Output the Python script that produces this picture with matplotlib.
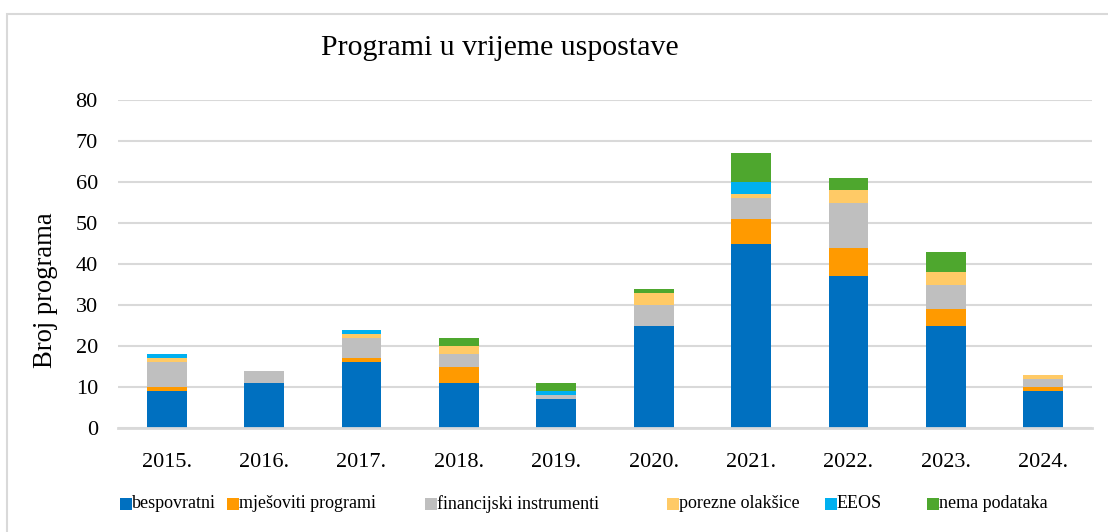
import matplotlib
matplotlib.use("Agg")
import matplotlib.pyplot as plt
from matplotlib.patches import Rectangle
import numpy as np

years = ["2015.", "2016.", "2017.", "2018.", "2019.", "2020.", "2021.", "2022.", "2023.", "2024."]
series_names = ["bespovratni", "mješoviti programi", "financijski instrumenti",
                "porezne olakšice", "EEOS", "nema podataka"]
bespovratni = [9, 11, 16, 11, 7, 25, 45, 37, 25, 9]
mjesoviti = [1, 0, 1, 4, 0, 0, 6, 7, 4, 1]
financijski = [6, 3, 5, 3, 1, 5, 5, 11, 6, 2]
porezne = [1, 0, 1, 2, 0, 3, 1, 3, 3, 1]
eeos = [1, 0, 1, 0, 1, 0, 3, 0, 0, 0]
nema = [0, 0, 0, 2, 2, 1, 7, 3, 5, 0]
colors = ["#0070C0", "#FF9A00", "#BFBFBF", "#FFCA66", "#00B0F0", "#4EA72E"]

W, H = 1108, 532
plt.rcParams['font.family'] = ['Liberation Serif', 'DejaVu Serif']
fig = plt.figure(figsize=(W / 100, H / 100), dpi=100)
fig.patch.set_facecolor("white")

# outer border (chart area frame)
fig.patches.append(Rectangle((7 / W, -0.1), 1.2, 1 - 14 / H + 0.1, transform=fig.transFigure,
                             fill=False, edgecolor="#d9d9d9", linewidth=1.5))

ax = fig.add_axes([118 / W, 1 - 428 / H, (1092 - 118) / W, (428 - 100) / H])
x = np.arange(len(years))
data = [bespovratni, mjesoviti, financijski, porezne, eeos, nema]
bottom = np.zeros(len(years))
for vals, c, name in zip(data, colors, series_names):
    ax.bar(x, vals, width=0.41, bottom=bottom, color=c, label=name, zorder=3)
    bottom += np.array(vals)

ax.set_xlim(-0.5, len(years) - 0.5)
ax.set_ylim(0, 80)
ax.set_yticks(range(0, 81, 10))
ax.set_xticks(x)
ax.set_xticklabels(years)
ax.yaxis.grid(True, color="#d9d9d9", linewidth=1.5, zorder=0)
ax.set_axisbelow(True)
for s in ["top", "right", "left"]:
    ax.spines[s].set_visible(False)
ax.spines["bottom"].set_color("#d9d9d9")
ax.spines["bottom"].set_linewidth(2)
ax.spines["bottom"].set_zorder(4)
ax.tick_params(axis="both", length=0, labelsize=16, colors="black")
ax.tick_params(axis="y", pad=14.5)
ax.tick_params(axis="x", pad=18)

fig.text(500 / W, 1 - 48 / H, "Programi u vrijeme uspostave", ha="center", va="center", fontsize=21.5)
fig.text(46 / W, 1 - 290 / H, "Broj programa", ha="center", va="center", rotation=90, fontsize=19.2)

# legend
sq_x = [120, 227, 425, 667, 825, 927]
ly = 504
for sx, c, name in zip(sq_x, colors, series_names):
    fig.patches.append(Rectangle((sx / W, (H - ly - 6) / H), 12 / W, 12 / H,
                                 transform=fig.transFigure, facecolor=c, edgecolor="none"))
    fig.text((sx + 12) / W, 1 - ly / H, name, ha="left", va="center", fontsize=13)

fig.savefig("out.png", dpi=100)
